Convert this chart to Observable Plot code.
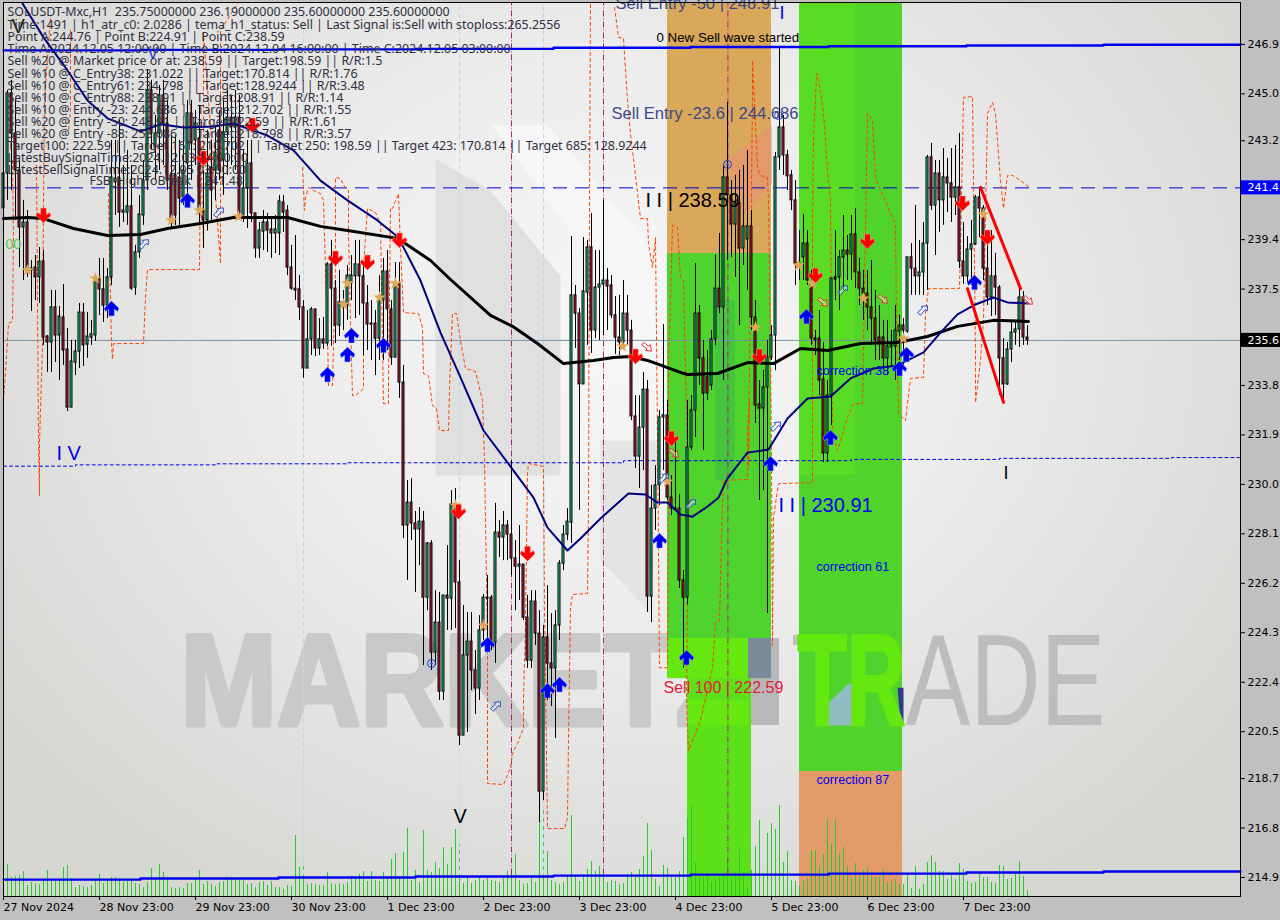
<!DOCTYPE html>
<html><head><meta charset="utf-8">
<script src="https://cdn.jsdelivr.net/npm/d3@7"></script>
<script src="https://cdn.jsdelivr.net/npm/@observablehq/plot@0.6"></script>
<style>html,body{margin:0;padding:0;background:#c0c0c0;overflow:hidden}svg{display:block}</style>
</head><body><div id="chart"></div>
<script>
const highs=[242.83,245.13,245.52,244.75,242.44,240.91,240.52,238.60,238.79,239.10,238.98,235.72,237.45,237.45,236.83,237.68,235.99,235.53,235.53,236.95,236.95,236.60,236.30,237.95,238.68,238.68,238.29,243.21,243.21,243.98,242.25,242.83,242.25,239.18,241.10,242.44,245.90,245.52,244.17,245.32,245.52,244.75,243.40,243.40,243.21,243.79,244.75,244.75,244.36,244.56,242.06,243.60,243.21,243.79,244.36,244.75,245.13,244.94,245.13,244.94,242.83,243.21,243.21,240.41,240.06,240.52,240.41,240.25,240.33,241.10,241.10,240.71,239.18,239.56,238.02,237.06,236.68,236.80,236.72,236.37,236.41,238.52,239.37,237.83,238.22,237.45,238.41,238.79,239.37,239.37,238.52,237.64,237.06,236.68,238.02,238.68,238.98,237.06,238.52,238.52,234.57,230.15,230.22,228.96,229.11,228.96,227.77,227.84,225.92,225.85,225.73,227.65,229.76,229.84,227.07,225.35,225.08,225.08,223.62,224.96,225.77,226.50,225.73,229.27,228.61,228.96,228.61,230.92,227.84,228.42,226.92,225.73,225.92,225.92,225.15,224.58,226.11,225.04,225.15,227.07,228.42,229.07,239.52,237.64,236.76,239.48,239.37,240.41,238.98,238.98,240.91,238.29,238.02,237.22,237.26,237.83,237.26,236.30,233.41,233.41,234.30,233.99,229.96,230.72,232.84,236.14,233.22,230.34,231.68,229.61,226.69,233.22,233.41,238.48,236.87,235.53,235.14,235.91,238.79,239.64,242.25,244.67,241.67,241.87,242.06,242.25,242.83,240.52,237.06,233.99,234.37,235.53,236.10,242.75,246.78,244.17,242.83,242.06,241.67,239.75,240.37,239.75,238.22,235.91,236.68,235.45,233.99,237.91,239.75,238.98,240.33,239.56,240.33,240.60,238.68,238.22,238.22,238.60,237.45,236.87,236.30,236.30,235.91,236.87,236.49,236.37,238.72,239.25,240.71,239.37,240.06,242.64,243.10,242.44,242.44,242.90,242.52,242.90,243.02,243.48,240.06,239.52,240.14,241.10,241.37,240.71,239.18,239.75,238.87,237.64,235.60,235.45,236.30,236.30,237.52,237.41,236.10];
const lows=[239.37,240.91,241.29,240.14,238.33,237.83,237.95,236.64,237.06,236.95,235.34,234.30,234.30,234.68,233.99,234.57,232.80,232.95,234.18,234.45,234.53,234.84,235.34,235.49,236.49,236.22,236.37,237.64,240.33,239.87,240.06,239.95,237.45,237.26,238.68,239.95,241.29,242.83,241.67,242.06,242.25,241.29,239.87,239.95,239.95,240.71,241.10,241.67,242.25,239.95,239.06,239.73,240.14,240.91,241.67,241.10,241.87,242.25,242.06,240.14,240.06,239.83,240.06,238.68,238.68,238.98,238.91,238.68,238.87,238.79,239.68,238.02,237.45,237.06,236.30,234.07,234.45,234.95,234.91,234.95,235.18,235.30,235.30,235.41,235.68,235.91,236.30,237.06,236.37,236.49,234.95,235.14,234.76,234.18,234.76,234.76,235.14,234.57,234.87,233.30,227.92,226.31,227.84,225.85,226.88,223.04,225.15,222.85,223.04,221.70,221.70,224.39,224.39,224.46,219.97,220.35,220.47,222.08,221.16,221.70,224.00,224.00,223.62,223.12,227.19,227.07,227.07,226.50,225.15,225.54,224.77,222.93,222.93,223.81,217.01,217.85,221.70,221.47,220.24,224.00,226.69,227.84,227.73,235.22,229.00,233.84,235.34,235.03,235.60,235.53,235.72,235.91,236.37,234.99,234.95,235.34,235.34,232.45,230.61,229.84,230.53,225.08,224.69,228.23,229.19,230.53,229.38,228.80,228.99,226.00,222.93,225.38,231.30,231.80,233.80,231.30,233.22,233.61,235.34,236.56,233.99,238.60,238.72,237.95,236.10,238.41,237.45,235.91,232.34,229.38,229.76,225.04,234.76,234.37,242.06,241.87,241.29,240.52,237.64,237.83,237.83,237.64,235.34,234.95,233.41,230.84,230.84,232.26,237.06,236.68,237.45,237.83,237.83,237.52,236.87,236.30,235.91,235.34,234.76,234.76,234.37,234.18,234.57,233.99,234.76,234.57,235.80,237.26,237.26,237.26,237.26,237.45,240.52,238.79,239.68,239.95,240.44,240.06,240.33,238.29,237.68,237.75,237.64,239.18,239.48,237.83,236.87,236.45,236.49,233.41,233.22,233.80,234.68,235.34,235.26,235.34,235.34];
const opens=[240.60,241.94,245.02,243.48,242.06,239.87,240.06,238.22,238.33,237.95,238.56,235.68,235.45,236.80,235.72,236.41,235.18,232.95,234.68,235.10,236.60,235.37,235.64,235.72,237.91,237.49,236.87,237.95,241.60,241.75,240.44,240.44,240.68,237.56,238.91,240.33,241.67,245.13,242.94,243.48,244.94,243.86,241.87,241.87,241.79,241.02,242.33,244.25,243.21,243.29,240.52,240.14,242.17,242.06,243.60,242.44,243.52,244.09,243.71,244.09,240.33,241.37,242.33,240.41,239.06,239.71,240.06,239.79,239.64,239.64,240.83,240.52,238.33,237.52,237.49,236.80,234.45,235.57,236.72,235.22,235.57,235.41,238.45,237.52,236.10,236.99,236.87,237.72,237.99,238.45,237.99,236.95,236.14,236.18,235.60,237.06,238.18,236.72,234.87,237.72,233.91,228.42,229.30,228.50,228.27,228.57,225.65,227.73,223.54,224.69,222.04,225.73,225.61,229.23,226.23,220.35,223.43,223.96,222.85,222.16,224.39,225.61,225.65,223.92,228.15,227.96,228.42,228.07,227.15,226.84,226.92,224.88,223.23,225.50,224.27,218.20,224.12,223.12,222.93,224.58,226.96,228.07,228.53,237.26,236.56,233.84,237.37,239.10,235.91,237.56,237.68,237.83,237.64,236.49,235.64,235.45,236.56,235.91,232.61,231.07,232.18,233.64,225.69,229.07,229.96,232.57,232.65,229.49,229.03,229.07,226.31,225.65,231.42,232.84,236.56,234.84,234.11,233.80,235.57,237.52,236.80,241.79,241.10,239.98,240.79,239.06,239.41,239.91,236.41,233.07,232.91,233.72,234.87,235.72,242.56,243.71,242.64,241.87,240.91,238.41,238.72,239.25,237.64,235.60,235.60,234.03,231.19,233.41,237.95,237.95,238.72,238.98,238.83,239.60,238.14,237.52,237.33,236.80,236.37,235.64,235.64,234.84,235.26,235.30,235.87,236.10,235.87,238.72,238.29,237.99,238.14,239.25,242.56,240.71,241.94,240.91,241.79,241.56,241.02,241.41,238.56,237.99,239.02,239.22,241.02,240.60,238.29,237.18,237.99,237.56,234.84,233.84,235.18,235.83,235.95,237.18,235.64];
const closes=[241.94,245.02,243.48,242.06,239.87,240.06,238.29,238.29,237.95,238.56,235.64,235.45,236.80,235.72,236.45,235.14,232.95,234.72,235.10,236.60,235.34,235.68,235.76,237.83,237.49,236.87,237.95,241.79,241.75,240.44,240.52,240.68,237.52,238.91,240.37,241.67,245.13,243.48,243.48,244.94,243.86,241.67,240.21,240.33,240.98,242.06,244.25,243.10,243.86,240.41,240.14,241.94,241.29,242.75,242.06,243.52,244.09,243.71,244.09,240.41,241.37,242.33,240.41,239.06,239.75,240.06,239.75,239.64,239.79,240.87,240.44,238.33,237.52,237.45,236.80,234.45,235.57,236.72,235.22,235.57,235.41,238.45,237.52,236.10,236.99,236.80,238.02,238.02,238.45,237.99,236.95,236.14,236.18,235.60,237.06,238.18,236.72,234.87,237.72,233.91,228.42,229.30,228.50,228.27,228.57,225.65,227.73,223.54,224.69,222.04,225.73,225.61,229.23,226.23,220.35,223.43,223.96,222.85,222.16,224.39,225.65,225.65,223.92,228.15,227.96,228.42,228.07,227.15,226.84,226.92,224.88,223.23,225.50,224.27,218.20,224.12,223.12,222.93,224.58,226.96,228.07,228.57,237.26,236.56,233.84,237.41,239.10,235.91,237.56,237.68,237.83,237.60,236.49,235.64,235.45,236.56,235.91,232.61,231.07,232.18,233.64,225.69,229.07,229.96,232.57,232.65,229.49,229.07,229.07,226.31,225.65,231.42,232.84,236.56,234.84,233.49,233.49,235.57,237.52,236.80,241.79,241.10,239.98,240.79,239.06,239.91,239.91,236.41,233.03,232.91,233.72,234.87,235.72,242.56,243.71,242.64,241.83,240.91,238.48,238.48,239.25,237.83,235.60,235.53,233.99,231.19,233.41,237.91,237.87,238.72,238.98,238.83,239.60,238.14,237.52,237.33,236.80,236.37,235.53,235.45,234.84,235.30,235.34,235.91,236.10,235.91,238.72,238.29,237.99,238.14,239.25,242.56,240.71,241.94,240.91,241.79,241.56,241.02,241.41,238.56,237.99,239.02,239.22,241.02,240.60,238.29,237.18,237.99,237.56,234.84,233.84,235.18,235.83,235.95,237.18,235.64,235.53];
const volumes=[22,32,19,20,21,25,11,14,13,12,16,26,15,15,16,29,31,18,9,11,10,9,11,16,22,13,16,19,19,18,14,15,17,13,12,9,14,28,17,32,24,19,9,8,9,8,13,13,17,26,12,15,12,10,14,15,19,19,18,18,17,12,13,9,14,15,11,15,9,9,7,11,10,61,29,35,12,13,12,11,11,24,13,12,13,12,14,20,18,22,25,15,25,16,15,24,18,37,43,19,44,68,16,26,14,66,26,24,34,28,49,32,49,67,52,13,20,13,16,20,16,18,16,15,14,18,25,26,42,16,12,13,18,14,75,90,45,16,14,12,14,20,81,20,15,22,27,35,25,30,24,14,16,15,12,13,22,24,19,27,40,73,46,17,10,31,28,19,19,25,59,78,90,34,19,21,21,14,16,19,21,39,19,24,47,24,9,26,50,76,23,63,73,67,91,34,45,16,15,10,15,18,45,46,29,42,77,52,77,43,49,29,18,33,20,26,28,20,19,19,27,13,15,17,12,12,22,8,30,7,12,34,41,34,25,25,17,21,17,33,27,15,13,14,24,19,19,14,13,31,30,17,18,23,35,20,6];

const priceTicks=[246.9,245.0,243.2,239.4,237.5,233.8,231.9,230.0,228.1,226.2,224.3,222.4,220.5,218.7,216.8,214.9];
const tickBars=[0,24,48,72,96,120,144,168,192,216,240];
const tickLabels=["27 Nov 2024","28 Nov 23:00","29 Nov 23:00","30 Nov 23:00","1 Dec 23:00","2 Dec 23:00","3 Dec 23:00","4 Dec 23:00","5 Dec 23:00","6 Dec 23:00","7 Dec 23:00"];

const blackMA=[[0,240.21],[6.25,240.25],[10,240.21],[17.5,239.83],[26,239.56],[34.25,239.60],[41,239.83],[49.25,240.02],[57.5,240.25],[71,240.25],[79.25,239.91],[86,239.75],[98.5,239.45],[106.75,238.60],[111.75,237.87],[121.75,236.49],[127.25,236.07],[133.5,235.41],[140,234.64],[147.5,234.76],[152.5,234.87],[156.75,234.91],[161,234.76],[169.25,234.30],[171,234.22],[178.5,234.26],[186,234.68],[192.5,234.64],[199.25,235.22],[206,235.14],[214.25,235.41],[223.5,235.45],[231,235.68],[238.5,236.07],[247.5,236.30],[256.25,236.26]];
const navyMA=[[4.75,248.47],[10,247.17],[16,245.90],[21,244.75],[26,244.06],[34.25,243.56],[39.25,243.83],[45,243.71],[52.5,243.75],[57.5,243.86],[66,243.40],[72.5,242.83],[79.25,241.67],[86,240.91],[93.5,240.14],[98.75,239.48],[104.25,237.83],[109.25,235.83],[114.25,234.11],[120,232.07],[127.5,230.53],[132.5,229.49],[136,228.34],[141,227.46],[144.25,227.92],[149.25,228.69],[156.25,229.65],[160.5,229.61],[163.5,229.30],[166,229.30],[169.25,228.84],[172.25,228.76],[176,229.15],[178.75,229.49],[181,230.23],[186,231.22],[191.25,231.34],[196,232.53],[201,233.30],[206.75,233.38],[211.75,234.07],[217.5,234.45],[223.5,234.57],[230,235.07],[234.25,235.83],[238.5,236.53],[243,236.91],[247.5,237.18],[251,236.99],[256.25,236.95]];
const topStep=[[0,246.67],[34.25,246.69],[68.75,246.71],[103,246.73],[137.5,246.77],[171.75,246.80],[206.25,246.83],[240.75,246.86],[275,246.89],[309.25,246.91]];
const bottomStep=[[0,214.82],[34.25,214.86],[68.75,214.90],[103,214.94],[137.5,214.97],[171.75,215.01],[206.25,215.05],[240.75,215.09],[275,215.13],[309.25,215.13]];
const dottedLevel=[[0,230.70],[18,230.75],[53,230.79],[86,230.83],[155,230.91],[212,230.96],[249,231.00],[292,231.03],[309,231.03]];
const wedgeUpper=[[244.25,241.41],[254.25,237.52]];
const wedgeLower=[[241,237.52],[250,233.15]];

const orangeSegments=[
[[0,233.22],[0.5,234.30],[1.25,236.18],[2.25,236.26],[2.5,239.37],[2.25,242.44]],
[[8.25,242.25],[8.5,237.06],[8.75,231.57],[9,229.57],[9,231.57],[9.75,235.41],[10,240.71],[10.25,244.75],[11.75,248.01]],
[[16.75,247.44],[16.75,244.36],[16.25,243.60]],
[[26.25,241.17],[26.75,237.06],[27,235.41],[27.25,234.80],[27.5,235.41],[35,235.41],[35.5,237.18],[36,238.25],[49,238.25],[49.25,243.10],[50,239.10],[50,247.32],[54.25,238.48],[54.25,247.44],[58.5,248.47]],
[[74.75,242.17],[75.25,240.52],[75.5,241.02],[76.25,241.41],[77.5,241.29],[79.25,241.17],[80,240.91],[80.5,238.33],[81,235.80],[81.25,233.80],[82.25,233.80],[83,238.33],[83,241.79],[84.25,241.75],[85.5,241.37],[86.25,241.29],[86.25,239.64],[86.75,236.18],[87.25,233.41],[88,233.41],[90,233.68],[90,238.33],[91,240.60],[93,240.44],[94.25,240.02],[95,233.10],[96.25,233.10],[96.25,233.99],[96.75,240.64],[97.25,240.60],[98.75,241.17],[99.25,239.10],[100,236.60],[103.75,236.56],[104.75,236.03],[105,234.26],[106.25,234.18],[107.25,233.03],[108.25,232.91],[109,232.07],[111.25,232.07],[111.5,233.72],[112.25,236.56],[113.25,236.56],[114.25,235.53],[115.5,234.45],[118,234.34],[119.75,233.22],[120.25,230.92],[121,224.00],[121,218.51],[125,218.47],[126.75,219.12],[127.25,219.66],[128.5,220.04],[130,220.66],[130,221.81],[130.5,224.50],[131,230.42],[131.25,230.80],[135,230.69],[135.25,225.27],[136,216.78],[140.25,216.78],[141,217.20],[141.25,220.16],[141.75,225.27],[142.25,225.77],[146,225.81],[146.25,229.11],[146.5,240.91],[146.75,248.5]],
[[152.75,248.32],[153.75,247.17],[155,247.13],[156,244.75],[156.75,243.48],[159.25,240.21],[161,240.21],[161.25,239.25],[162.25,238.33],[163,239.48],[163.5,231.95],[164,222.96],[166,222.96],[166.25,229.11],[166.25,234.49],[167.25,239.95],[168.5,239.87],[169.25,237.95],[170,237.83],[170.5,234.49],[171.25,229.38],[171,225.04],[170.75,221.81],[171.25,219.78],[174.25,220.93],[177.25,222.96],[178,224.69],[179,224.77],[179.75,229.38],[180,230.15],[186,230.19],[186,232.18],[186.5,233.22],[186.25,230.65],[186.75,238.33],[187.25,244.75],[187.25,246.28],[188.5,242.17],[189.25,241.87],[191,241.79],[191.25,240.91],[191.75,235.03],[192,230.92],[192.25,223.81],[192.5,228.73],[193.75,230.03],[202.25,230.07],[202.25,239.64],[202.5,243.48],[203,244.75],[203.25,245.79],[203.75,245.63],[205,244.25],[206.25,241.56],[206.75,240.91],[207.25,231.95],[208.5,231.30],[211,232.57],[212.5,233.10],[214.75,233.10],[216,244.25],[217.25,243.98],[218,241.79],[219.25,241.29],[223,240.02],[223.25,236.30],[223.75,232.72],[225.5,232.45],[226.75,234.07],[230,234.11],[230.5,236.56],[231.25,237.52],[239,237.52],[239.25,239.10],[240,244.86],[242.25,244.90],[242.5,241.67],[243,235.03],[243,233.14],[244.25,234.76],[245,236.30],[246,244.25],[247.25,244.67],[248,244.25],[248.5,243.21],[249.25,241.67],[250,240.60],[251,241.87],[252.25,241.87],[254.25,241.67],[256.25,241.44]]
];

const upArrows=[[46,240.91],[27,236.76],[81,234.22],[86,234.99],[87,235.72],[95,235.34],[121,223.85],[139,222.31],[136,222.08],[164,227.84],[170.75,223.35],[191.75,230.80],[200.75,236.45],[206.75,231.80],[224,234.45],[225.75,234.99],[242.75,237.76]];
const downArrows=[[10,240.33],[62.25,243.79],[50,242.52],[83,238.68],[91,238.52],[99,239.37],[113.75,228.95],[131,227.34],[158,234.91],[167,231.76],[189,234.91],[203,238.02],[216,239.33],[239.75,240.79],[246,239.48]];
const stars=[[6,238.22],[23,237.91],[42,240.14],[49,240.52],[58.75,240.29],[86,237.72],[98,237.72],[94,237.18],[85,236.91],[113,229.19],[120,224.58],[136.75,222.08],[166,230.11],[154.75,235.30],[188,236.03],[198.75,238.41],[202.25,237.72],[215,237.14],[225,235.60],[245,240.37]];
const hollowRed=[[160.75,235.26],[204.75,236.99],[219.75,237.10],[167.5,231.19],[256,237.06]];
const hollowBlue=[[35,239.22],[53.75,240.44],[123,221.47],[171.75,229.23],[165,230.23],[193,232.22],[209.75,237.45],[229.75,236.68]];
const ringMarks=[[107,223.12],[181,242.29],[193.75,244.17]];
const magentaBars=[127,150,181.1];
const paleBlueBars=[75,114,135];

const headerLines=[
"SOLUSDT-Mxc,H1  235.75000000 236.19000000 235.60000000 235.60000000",
"Time:1491 | h1_atr_c0: 2.0286 | tema_h1_status: Sell | Last Signal is:Sell with stoploss:265.2556",
"Point A:244.76 | Point B:224.91 | Point C:238.59",
"Time A:2024.12.05 12:00:00 | Time B:2024.12.04 16:00:00 | Time C:2024.12.05 03:00:00",
"Sell %20 @ Market price or at: 238.59 || Target:198.59 || R/R:1.5",
"Sell %10 @ C_Entry38: 231.022 || Target:170.814 || R/R:1.76",
"Sell %10 @ C_Entry61: 234.798 || Target:128.9244 || R/R:3.48",
"Sell %10 @ C_Entry88: 238.91 || Target:208.91 || R/R:1.14",
"Sell %10 @ Entry -23: 244.686 || Target:212.702 || R/R:1.55",
"Sell %20 @ Entry -50: 248.91 || Target:222.59 || R/R:1.61",
"Sell %20 @ Entry -88: 253.086 || Target:218.798 || R/R:3.57",
"Target100: 222.59 || Target 161: 210.702 || Target 250: 198.59 || Target 423: 170.814 || Target 685: 128.9244",
"LatestBuySignalTime:2024.12.03 14:00:00",
"LatestSellSignalTime:2024.12.05 03:00:00"];
const headerPrices=[248.13,247.63,247.17,246.71,246.25,245.77,245.31,244.84,244.38,243.92,243.46,243.00,242.54,242.08];

// [text, bar, price, colour, size]
const notes=[
["FSB_HighToBreak | 241.48",21.5,241.64,"#2f2f3f",12.4],
["Sell Entry -50 | 248.91",153,248.45,"#3c4a86",16.6],
["Sell Entry -23.6 | 244.686",152,244.25,"#3c4a86",16.6],
["0 New Sell wave started",163.25,247.17,"#000",13.3],
["I I | 238.59",160.5,240.91,"#000",20],
["I I | 230.91",193.75,229.19,"#0000ee",20],
["correction 38",203.25,234.37,"#0000ee",12.6],
["correction 61",203.25,226.84,"#0000ee",12.6],
["correction 87",203.25,218.66,"#0000ee",12.6],
["Sell 100 | 222.59",165,222.20,"#e0203c",16],
["I V",13.25,231.19,"#0000ee",20],
["V",112.5,217.24,"#000",20],
["I",250,230.42,"#000",18],
["I",194,248.1,"#0000ee",18],
["V",2,247.6,"#222",20],
["V",36,246.55,"#2233cc",16],
["00",0.5,239.2,"#55cc55",14]
];

// watermark pieces and colour zones, in bar / price units
const paleShapes=[
{c:"#e0e0e0",p:[[108,230.34],[139.25,230.34],[139.25,238.0],[121.75,241.29],[108,242.5]]},
{c:"#e4e4e4",p:[[149.25,231.69],[164,231.69],[161.75,225.08],[149.25,227.07]]},
{c:"#f6f6f6",p:[[122,243.8],[136,243.8],[176,236.5],[160,236.0]]}
];
const zones=[
[166,192,248.51,238.87,"#d9a85b"],
[166,192,238.87,222.54,"#4fd42e"],
[171,187,222.54,214.17,"#5ce01a"],
[199,224.75,248.51,218.97,"#50d42c"],
[199,224.75,218.97,214.17,"#e39b69"],
[199,213,248.51,230.34,"#59dd22"],
[166,186.25,224.08,222.54,"#64e810"],
[171,186.25,221.70,220.74,"#64e810"],
[178,183,237.06,230.15,"#44c63c"],
[186.25,192,224.08,222.54,"#7a8a9a"]
];
const letterIBlock=[186.25,194,224.08,220.74,"#b8b8b8"];
const salmonWedge=[[181,242.44],[192,243.79],[192,241.56],[185,240.3]];
const tealWedge=[[203.75,220.74],[203.75,221.24],[211.25,222.35],[213.25,222.35],[213.25,220.74]];
const navyWedge=[[223.5,222.19],[225,222.19],[225,220.85],[224.25,220.85]];

const wmBase=220.75;
const idx=d3.range(highs.length);
const upColor="#1fd084", downColor="#c0203f";
const rowsOf=a=>a.map(([x,y])=>({x,y}));
const barWidth=0.25;
const yMin=214.17, pxPerPrice=26.03;

const arrowUp={draw(c,s){const k=Math.sqrt(s/Math.PI);c.moveTo(0,-k);c.lineTo(k,-0.02*k);c.lineTo(k*0.82,k*0.42);c.lineTo(k*0.38,k*0.12);c.lineTo(k*0.38,k);c.lineTo(-k*0.38,k);c.lineTo(-k*0.38,k*0.12);c.lineTo(-k*0.82,k*0.42);c.lineTo(-k,-0.02*k);c.closePath();}};
const arrowDown={draw(c,s){const k=Math.sqrt(s/Math.PI);c.moveTo(0,k);c.lineTo(k,0.02*k);c.lineTo(k*0.82,-k*0.42);c.lineTo(k*0.38,-k*0.12);c.lineTo(k*0.38,-k);c.lineTo(-k*0.38,-k);c.lineTo(-k*0.38,-k*0.12);c.lineTo(-k*0.82,-k*0.42);c.lineTo(-k,0.02*k);c.closePath();}};
const hollowRedSym={draw(c,s){const k=Math.sqrt(s/Math.PI);c.moveTo(-k,-k*0.55);c.lineTo(-k*0.45,-k);c.lineTo(k*0.35,-k*0.2);c.lineTo(k*0.75,-k*0.55);c.lineTo(k,k*0.75);c.lineTo(-k*0.2,k*0.6);c.lineTo(k*0.1,k*0.3);c.closePath();}};
const hollowBlueSym={draw(c,s){const k=Math.sqrt(s/Math.PI);c.moveTo(k,k*-0.95);c.lineTo(k*0.95,k*0.1);c.lineTo(k*0.55,-k*0.2);c.lineTo(-k*0.4,k*0.95);c.lineTo(-k,k*0.4);c.lineTo(0,-k*0.45);c.lineTo(-k*0.25,-k*0.8);c.closePath();}};

const textMark=(t,x,y,color,size,extra={})=>Plot.text([t],{x:()=>x,y:()=>y,text:d=>d,fill:color,fontSize:size,textAnchor:"start",lineAnchor:"middle",fontFamily:"Liberation Sans",...extra});

const plot=Plot.plot({
  width:1280,height:920,
  marginLeft:3,marginRight:40,marginTop:2,marginBottom:24,
  style:{background:"radial-gradient(ellipse 760px 640px at 620px 340px,#f7f7f7 0%,#ececec 45%,#d6d6d3 100%) 3px 2px / 1237px 894px no-repeat,#c0c0c0",fontFamily:"DejaVu Sans",color:"#000",overflow:"visible"},
  x:{type:"linear",domain:[0,309.25]},
  y:{type:"linear",domain:[yMin,248.51]},
  marks:[
    ...paleShapes.map(s=>Plot.line(rowsOf(s.p),{x:"x",y:"y",fill:s.c,stroke:"none"})),
    Plot.rect([letterIBlock],{x1:d=>d[0],x2:d=>d[1],y1:d=>d[2],y2:d=>d[3],fill:d=>d[4]}),
    textMark("MARKETZ",44.25,wmBase,"#c9c9c9",130,{fontWeight:700,lineAnchor:"bottom",stroke:"#c9c9c9",strokeWidth:5}),
    textMark("ADE",225.5,wmBase,"#bdbdbb",130,{lineAnchor:"bottom"}),
    textMark("T",197,wmBase,"#bdbdbb",130,{lineAnchor:"bottom"}),
    Plot.rect(zones.slice(0,-1),{x1:d=>d[0],x2:d=>d[1],y1:d=>d[2],y2:d=>d[3],fill:d=>d[4]}),
    Plot.line(rowsOf(salmonWedge),{x:"x",y:"y",fill:"#e39a6b",stroke:"none"}),
    Plot.rect(zones.slice(-1),{x1:d=>d[0],x2:d=>d[1],y1:d=>d[2],y2:d=>d[3],fill:d=>d[4]}),
    Plot.line(rowsOf(tealWedge),{x:"x",y:"y",fill:"#8fbcc0",stroke:"none"}),
    Plot.line(rowsOf(navyWedge),{x:"x",y:"y",fill:"#2f3a8a",stroke:"none"}),
    textMark("TR",198.5,wmBase,"#64e810",130,{fontWeight:700,lineAnchor:"bottom",stroke:"#64e810",strokeWidth:3}),
    Plot.ruleX(idx,{x:i=>i,y1:yMin,y2:i=>yMin+volumes[i]/pxPerPrice,stroke:"#28cc28",strokeWidth:1}),
    Plot.ruleX(paleBlueBars,{x:d=>d,y1:215,y2:248.51,stroke:"#b5dde6",strokeWidth:1,strokeDasharray:"5,3"}),
    Plot.ruleX(magentaBars,{x:d=>d,y1:215,y2:248.51,stroke:"#b01e7d",strokeWidth:1,strokeDasharray:"6,2,1,2"}),
    Plot.ruleY([235.53],{x1:0,x2:309.25,stroke:"#7a8fa6",strokeWidth:1}),
    Plot.ruleY([241.39],{x1:0,x2:309.25,stroke:"#0000cc",strokeWidth:1,strokeDasharray:"14,8"}),
    Plot.line(rowsOf(dottedLevel),{x:"x",y:"y",curve:"step-after",stroke:"#0000ee",strokeWidth:1,strokeDasharray:"3,3"}),
    ...orangeSegments.map(s=>Plot.line(rowsOf(s),{x:"x",y:"y",stroke:"#ff4500",strokeWidth:1,strokeDasharray:"3,3"})),
    Plot.ruleX(idx,{x:i=>i,y1:i=>lows[i],y2:i=>highs[i],stroke:"#000",strokeWidth:1}),
    Plot.rect(idx,{x1:i=>i-barWidth,x2:i=>i+barWidth,y1:i=>opens[i],y2:i=>closes[i],fill:i=>closes[i]>=opens[i]?upColor:downColor,stroke:"#000",strokeWidth:1}),
    Plot.line(rowsOf(topStep),{x:"x",y:"y",curve:"step-after",stroke:"#0000ee",strokeWidth:2.4}),
    Plot.line(rowsOf(bottomStep),{x:"x",y:"y",curve:"step-after",stroke:"#0000ee",strokeWidth:2.4}),
    Plot.line(rowsOf(blackMA),{x:"x",y:"y",stroke:"#000",strokeWidth:3}),
    Plot.line(rowsOf(navyMA),{x:"x",y:"y",stroke:"#000080",strokeWidth:2}),
    Plot.line(rowsOf(wedgeUpper),{x:"x",y:"y",stroke:"#ff0000",strokeWidth:3}),
    Plot.line(rowsOf(wedgeLower),{x:"x",y:"y",stroke:"#ff0000",strokeWidth:3}),
    Plot.dot(rowsOf(stars),{x:"x",y:"y",r:4,symbol:"star",fill:"#e0a95a",stroke:"none"}),
    Plot.dot(rowsOf(hollowRed),{x:"x",y:"y",r:5,symbol:hollowRedSym,fill:"#fff",fillOpacity:0.4,stroke:"#ee3030",strokeWidth:1}),
    Plot.dot(rowsOf(hollowBlue),{x:"x",y:"y",r:5,symbol:hollowBlueSym,fill:"#fff",fillOpacity:0.4,stroke:"#2a4fd0",strokeWidth:1}),
    Plot.dot(rowsOf(ringMarks),{x:"x",y:"y",r:4,fill:"none",stroke:"#1a3fd8",strokeWidth:1}),
    Plot.dot(rowsOf(ringMarks),{x:"x",y:"y",r:1.2,fill:"#1a3fd8",stroke:"none"}),
    Plot.dot(rowsOf(upArrows),{x:"x",y:"y",r:7.5,symbol:arrowUp,fill:"#0000f0",stroke:"#a9c8ee",strokeWidth:0.5}),
    Plot.dot(rowsOf(downArrows),{x:"x",y:"y",r:7.5,symbol:arrowDown,fill:"#ff0000",stroke:"#ffb0a0",strokeWidth:0.5}),
    Plot.text(headerLines,{x:()=>1,y:(d,i)=>headerPrices[i],text:d=>d,fill:"#2f2f3f",fontSize:12.4,textAnchor:"start",lineAnchor:"middle",fontFamily:"Noto Sans"}),
    ...notes.map(n=>textMark(n[0],n[1],n[2],n[3],n[4],n[0].startsWith("FSB")?{fontFamily:"Noto Sans"}:{})),
    Plot.frame({stroke:"#000",strokeWidth:1}),
    Plot.axisX({ticks:tickBars,tickFormat:d=>tickLabels[tickBars.indexOf(d)],anchor:"bottom",textAnchor:"start",tickSize:4,tickPadding:3,fontSize:11,label:null}),
    Plot.axisY({ticks:priceTicks,tickFormat:d=>d.toFixed(1),anchor:"right",tickSize:4,tickPadding:3,fontSize:11,label:null}),
    Plot.rect([[309.5,241.39,"#0000ff"],[309.5,235.53,"#000000"]],{x1:d=>d[0],x2:()=>320,y1:d=>d[1]-0.27,y2:d=>d[1]+0.27,fill:d=>d[2]}),
    Plot.text([[241.4,241.39],[235.6,235.53]],{x:()=>311,y:d=>d[1],text:d=>d[0].toFixed(1),fill:"#fff",fontSize:11,textAnchor:"start",fontFamily:"DejaVu Sans"})
  ]
});
const sel=d3.select(plot);
[["MARKETZ",566],["ADE",200],["T",44],["TR",108]].forEach(([k,w])=>{
  sel.selectAll("text").filter(function(){return this.textContent===k;}).attr("textLength",w).attr("lengthAdjust","spacingAndGlyphs");
});
document.getElementById("chart").append(plot);
</script>
</body></html>
